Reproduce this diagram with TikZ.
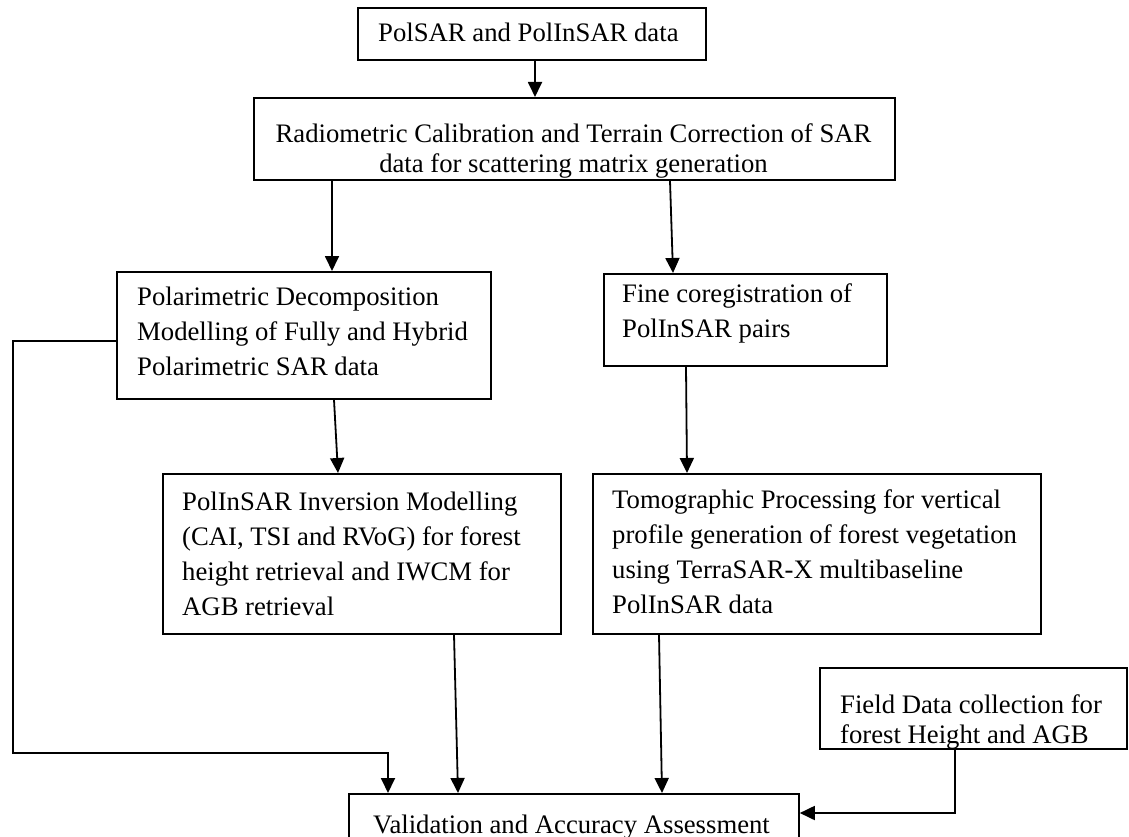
\documentclass[tikz,border=0pt]{standalone}
\usepackage{fontspec}
\setmainfont{Liberation Serif}
\usetikzlibrary{arrows.meta}
\tikzset{
  box/.style={draw, line width=1.8pt, inner sep=0pt, anchor=north west},
  txt/.style={inner sep=0pt, font=\fontsize{26.7}{35}\selectfont},
  tighttxt/.style={inner sep=0pt, font=\fontsize{26.7}{30}\selectfont},
  arr/.style={line width=1.8pt, -{Triangle[width=14pt,length=15pt]}},
}
\newcommand{\boxlines}[1]{\parbox[t]{700pt}{\raggedright #1}}
\begin{document}
\begin{tikzpicture}[x=1pt,y=-1pt]
\useasboundingbox (0,0) rectangle (1129,837);
% boxes
\node[box, minimum width=348pt, minimum height=52pt] (data) at (357,7) {};
\node[box, minimum width=641pt, minimum height=82pt] (calib) at (253,97) {};
\node[box, minimum width=374pt, minimum height=127pt] (decomp) at (116,271) {};
\node[box, minimum width=283pt, minimum height=92pt] (coreg) at (603,273) {};
\node[box, minimum width=398pt, minimum height=160pt] (inv) at (162,473) {};
\node[box, minimum width=448pt, minimum height=160pt] (tomo) at (592,473) {};
\node[box, minimum width=307pt, minimum height=81pt] (field) at (819,667) {};
\node[box, minimum width=450pt, minimum height=80pt] (valid) at (348,793) {};
% texts
\node[txt, anchor=base west] (tdata) at (378,42) {PolSAR and PolInSAR data};
\begin{scope}
\clip (calib.north west) rectangle ([yshift=3pt]calib.south east);
\node[tighttxt, anchor=base] (tcalib) at (573.5,143) {\parbox[t]{640pt}{\centering Radiometric Calibration and Terrain Correction of SAR\\data for scattering matrix generation}};
\end{scope}
\node[txt, anchor=base west] (tdecomp) at (137,305) {\boxlines{Polarimetric Decomposition\\Modelling of Fully and Hybrid\\Polarimetric SAR data}};
\node[txt, anchor=base west] (tcoreg) at (622,302) {\boxlines{Fine coregistration of\\PolInSAR pairs}};
\node[txt, anchor=base west] (tinv) at (182,510) {\boxlines{PolInSAR Inversion Modelling\\(CAI, TSI and RVoG) for forest\\height retrieval and IWCM for\\AGB retrieval}};
\node[txt, anchor=base west] (ttomo) at (612,508) {\boxlines{Tomographic Processing for vertical\\profile generation of forest vegetation\\using TerraSAR-X multibaseline\\PolInSAR data}};
\begin{scope}
\clip (field.north west) rectangle ([yshift=2pt]field.south east);
\node[tighttxt, anchor=base west] (tfield) at (840,713) {\boxlines{Field Data collection for\\forest Height and AGB}};
\end{scope}
\node[txt, anchor=base west] (tvalid) at (373,833) {Validation and Accuracy Assessment};
% connectors
\coordinate (loopc) at (13,753);
\draw[arr] ([xshift=178pt]data.south west) -- ([xshift=282pt]calib.north west);
\draw[arr] ([xshift=79pt]calib.south west) -- ([xshift=216pt]decomp.north west);
\draw[arr] ([xshift=417pt]calib.south west) -- ([xshift=70pt]coreg.north west);
\draw[arr] ([xshift=218pt]decomp.south west) -- ([xshift=176pt]inv.north west);
\draw[arr] ([xshift=83pt]coreg.south west) -- ([xshift=95pt]tomo.north west);
\draw[arr] ([xshift=292pt]inv.south west) -- ([xshift=110pt]valid.north west);
\draw[arr] ([xshift=67pt]tomo.south west) -- ([xshift=314pt]valid.north west);
\draw[arr] ([yshift=-70pt]decomp.north west) -| (loopc) -| ([xshift=40pt]valid.north west);
\draw[arr] ([xshift=136pt]field.south west) |- ([yshift=-20pt]valid.north east);
\end{tikzpicture}
\end{document}
